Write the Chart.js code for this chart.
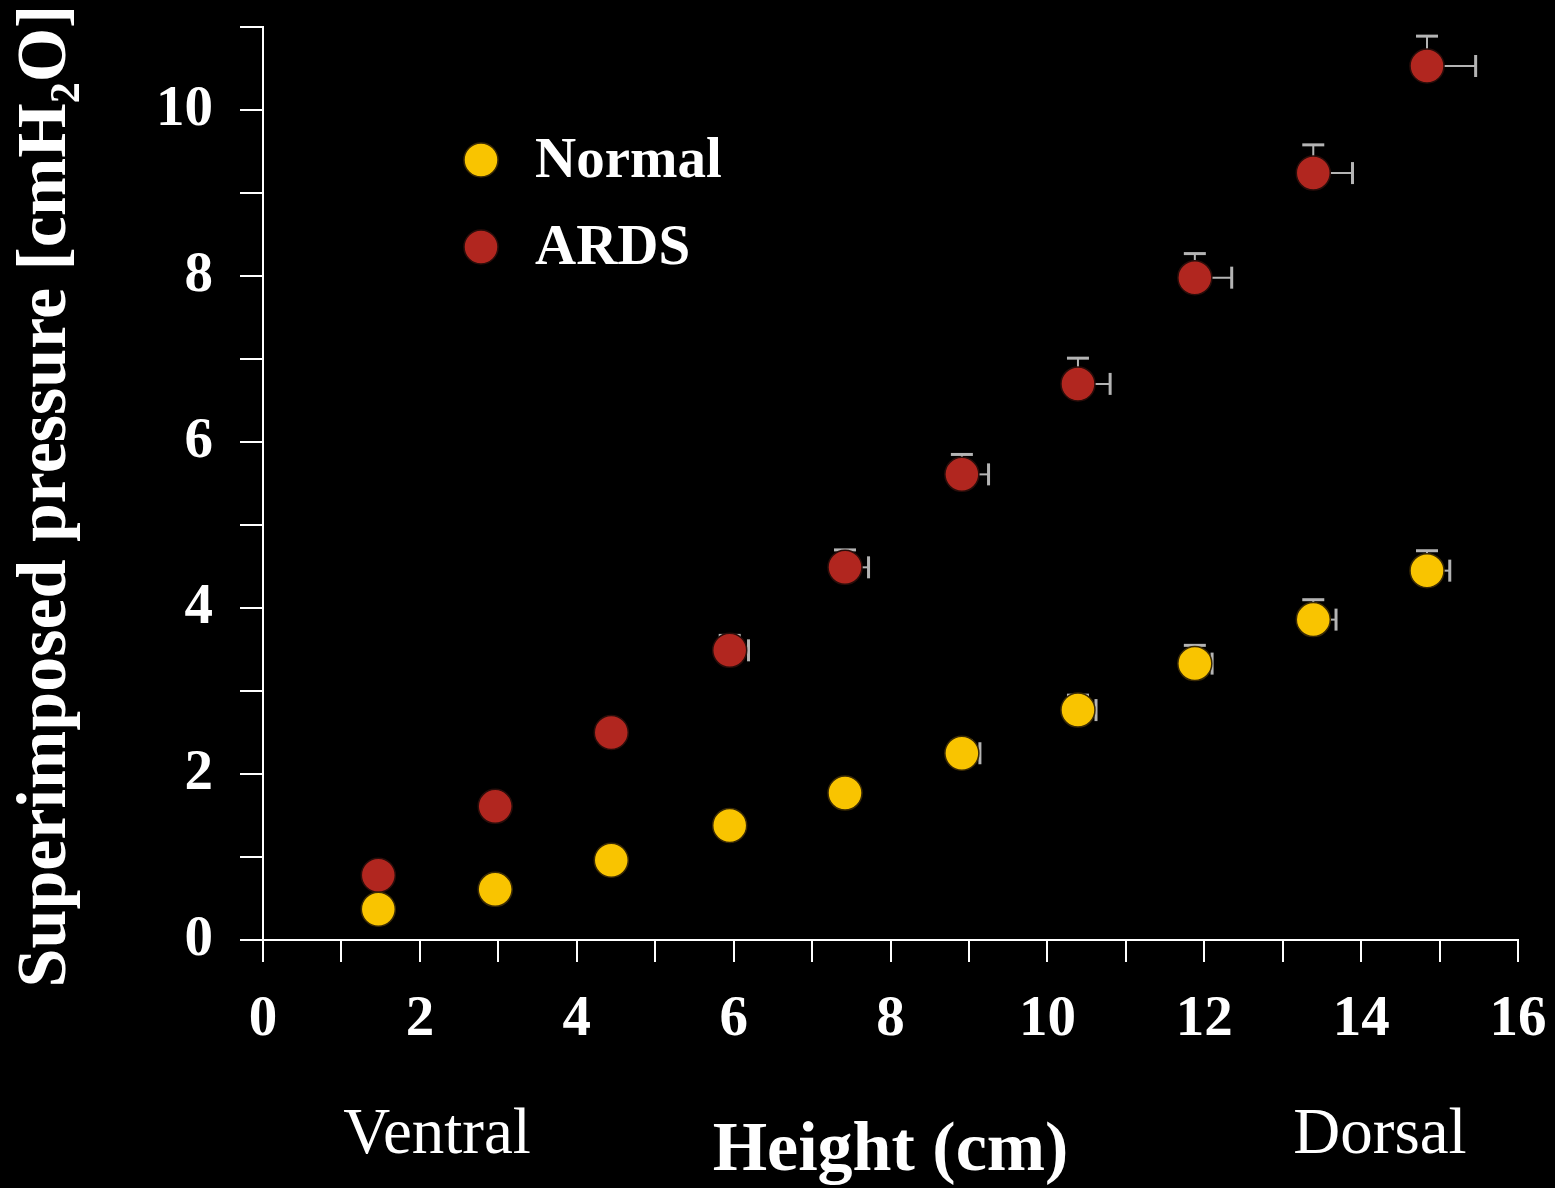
<!DOCTYPE html>
<html><head><meta charset="utf-8">
<script src="https://cdn.jsdelivr.net/npm/chart.js@4.4.1/dist/chart.umd.min.js"></script>
<style>html,body{margin:0;padding:0;background:#000;} #wrap{width:1555px;height:1188px;position:relative;}</style>
</head><body><div id="wrap"><canvas id="c" width="1555" height="1188"></canvas></div>
<script>
// ---- data ----
const heights = [1.47, 2.96, 4.44, 5.95, 7.42, 8.91, 10.39, 11.88, 13.39, 14.84];
const normalPressure = [0.37, 0.61, 0.96, 1.38, 1.77, 2.25, 2.77, 3.33, 3.86, 4.45];
const ardsPressure = [0.78, 1.61, 2.50, 3.49, 4.49, 5.61, 6.70, 7.98, 9.24, 10.53];
const normalPressureErr = [0.05, 0.06, 0.08, 0.10, 0.12, 0.15, 0.18, 0.22, 0.24, 0.24];
const normalHeightErr = [0.05, 0.06, 0.08, 0.10, 0.15, 0.23, 0.23, 0.22, 0.29, 0.29];
const ardsPressureErr = [0.08, 0.10, 0.12, 0.18, 0.21, 0.24, 0.31, 0.29, 0.34, 0.36];
const ardsHeightErr = [0.10, 0.12, 0.15, 0.24, 0.30, 0.34, 0.41, 0.47, 0.50, 0.62];
const xTickLabels = [0, 2, 4, 6, 8, 10, 12, 14, 16];
const yTickLabels = [0, 2, 4, 6, 8, 10];
const seriesLabels = ['Normal', 'ARDS'];
const sideLabels = ['Ventral', 'Dorsal'];
const xTitle = 'Height (cm)';
const yTitle = 'Superimposed pressure [cmH\u2082O]';

const SERIF = "'Liberation Serif', 'DejaVu Serif', serif";
const YELLOW = '#f9c400';
const RED = '#b1261f';

const mk = (xs, ys) => xs.map((x, i) => ({x: x, y: ys[i]}));

const errorBars = {
  id: 'errorBars',
  beforeDatasetsDraw(chart) {
    const {ctx, scales: {x, y}} = chart;
    const errs = [[normalHeightErr, normalPressureErr], [ardsHeightErr, ardsPressureErr]];
    ctx.save();
    ctx.strokeStyle = '#b4b4b4';
    chart.data.datasets.forEach((ds, di) => {
      ds.data.forEach((p, j) => {
        const px = x.getPixelForValue(p.x), py = y.getPixelForValue(p.y);
        const ex = x.getPixelForValue(p.x + errs[di][0][j]);
        const ey = y.getPixelForValue(p.y + errs[di][1][j]);
        ctx.lineWidth = 2;
        ctx.beginPath(); ctx.moveTo(px, py); ctx.lineTo(ex, py); ctx.stroke();
        ctx.beginPath(); ctx.moveTo(px, py); ctx.lineTo(px, ey); ctx.stroke();
        ctx.lineWidth = 3;
        ctx.beginPath(); ctx.moveTo(ex, py - 11); ctx.lineTo(ex, py + 11); ctx.stroke();
        ctx.beginPath(); ctx.moveTo(px - 11, ey); ctx.lineTo(px + 11, ey); ctx.stroke();
      });
    });
    ctx.restore();
  }
};

const bg = {
  id: 'bg',
  beforeDraw(chart) {
    const {ctx, width, height} = chart;
    ctx.save(); ctx.fillStyle = '#000'; ctx.fillRect(0, 0, width, height); ctx.restore();
  }
};

const extras = {
  id: 'extras',
  afterDraw(chart) {
    const {ctx, chartArea} = chart;
    ctx.save();
    // legend
    chart.data.datasets.forEach((ds, i) => {
      const cx = chartArea.left + 218, cy = chartArea.top + 133 + i * 87;
      ctx.beginPath(); ctx.arc(cx, cy, 17, 0, Math.PI * 2);
      ctx.fillStyle = ds.backgroundColor; ctx.fill();
      ctx.lineWidth = 1.5; ctx.strokeStyle = ds.borderColor; ctx.stroke();
      ctx.fillStyle = '#fff';
      ctx.font = 'bold 57px ' + SERIF;
      ctx.textAlign = 'left'; ctx.textBaseline = 'alphabetic';
      ctx.fillText(ds.label, chartArea.left + 272, cy + 17);
    });
    // side labels
    ctx.font = '65px ' + SERIF;
    ctx.textAlign = 'center';
    ctx.fillStyle = '#fff';
    ctx.fillText(sideLabels[0], 437, 1153);
    ctx.fillText(sideLabels[1], 1380, 1153);
    // y axis title
    ctx.translate(47, 496);
    ctx.rotate(-Math.PI / 2);
    ctx.font = 'bold 70px ' + SERIF;
    ctx.textAlign = 'center';
    ctx.textBaseline = 'middle';
    ctx.fillText(yTitle, 0, 0);
    ctx.restore();
  }
};

new Chart(document.getElementById('c'), {
  type: 'scatter',
  data: {
    datasets: [
      {label: seriesLabels[0], data: mk(heights, normalPressure), backgroundColor: YELLOW, borderColor: '#3a2a05', borderWidth: 1.5, pointRadius: 17, pointHoverRadius: 17},
      {label: seriesLabels[1], data: mk(heights, ardsPressure), backgroundColor: RED, borderColor: '#2a0d0a', borderWidth: 1.5, pointRadius: 17, pointHoverRadius: 17}
    ]
  },
  options: {
    responsive: false,
    animation: false,
    events: [],
    layout: {padding: {left: 0, right: 37, top: 27, bottom: 0}},
    plugins: {legend: {display: false}, tooltip: {enabled: false}},
    scales: {
      x: {
        type: 'linear', min: 0, max: 16,
        afterFit(s) { s.height = 248; s.paddingLeft = 0; s.paddingRight = 0; },
        ticks: {stepSize: 1, color: '#fff', padding: 24, maxRotation: 0, autoSkip: false,
          font: {family: SERIF, weight: 'bold', size: 57},
          callback: v => xTickLabels.includes(v) ? String(v) : ''},
        grid: {display: true, drawOnChartArea: false, drawTicks: true, tickLength: 22, color: '#fff', lineWidth: 2},
        border: {display: true, color: '#fff', width: 2},
        title: {display: true, text: xTitle, color: '#fff', font: {family: SERIF, weight: 'bold', size: 70}, padding: {top: 0, bottom: -6}}
      },
      y: {
        type: 'linear', min: 0, max: 11,
        afterFit(s) { s.width = 263; s.paddingTop = 0; s.paddingBottom = 0; },
        ticks: {stepSize: 1, color: '#fff', padding: 27, autoSkip: false,
          font: {family: SERIF, weight: 'bold', size: 57},
          callback: v => yTickLabels.includes(v) ? String(v) : ''},
        grid: {display: true, drawOnChartArea: false, drawTicks: true, tickLength: 23, color: '#fff', lineWidth: 2},
        border: {display: true, color: '#fff', width: 2},
        title: {display: false, text: yTitle}
      }
    }
  },
  plugins: [bg, errorBars, extras]
});
</script>
</body></html>
